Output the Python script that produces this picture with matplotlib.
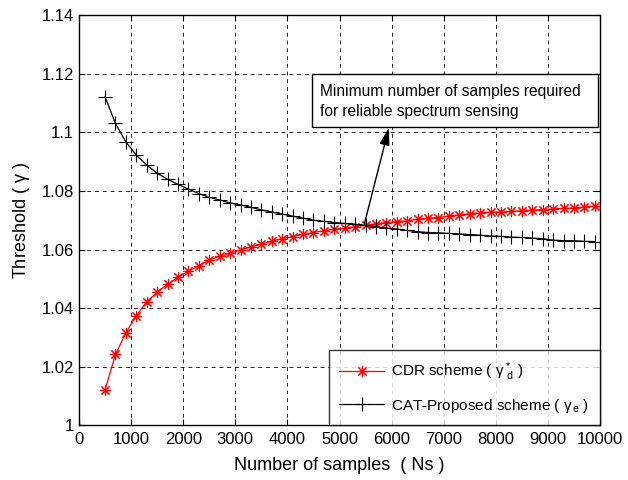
import numpy as np
import matplotlib
matplotlib.use("Agg")
import matplotlib.pyplot as plt
from matplotlib.patches import Rectangle

plt.rcParams['font.family'] = ['Liberation Sans', 'DejaVu Sans']
plt.rcParams['mathtext.fontset'] = 'custom'
plt.rcParams['mathtext.rm'] = 'Liberation Sans'
plt.rcParams['mathtext.it'] = 'Liberation Sans'

samples = list(range(500, 10000, 200))

cdr = [1.0121, 1.0242, 1.0316, 1.0374, 1.0422, 1.0454, 1.0482, 1.0505, 1.0526, 1.0545,
       1.0564, 1.0577, 1.0587, 1.0598, 1.0609, 1.0618, 1.0628, 1.0637, 1.0644, 1.0652,
       1.0658, 1.0664, 1.0669, 1.0673, 1.0678, 1.0682, 1.0688, 1.0692, 1.0695, 1.0698,
       1.0703, 1.0707, 1.0709, 1.0714, 1.0718, 1.0722, 1.0725, 1.0727, 1.0728, 1.0730,
       1.0732, 1.0735, 1.0736, 1.0739, 1.0740, 1.0742, 1.0744, 1.0749]

cat = [1.1121, 1.1030, 1.0967, 1.0922, 1.0888, 1.0860, 1.0840, 1.0822, 1.0806, 1.0791,
       1.0778, 1.0769, 1.0759, 1.0752, 1.0744, 1.0735, 1.0728, 1.0721, 1.0714, 1.0707,
       1.0700, 1.0696, 1.0692, 1.0689, 1.0686, 1.0682, 1.0677, 1.0673, 1.0670, 1.0665,
       1.0661, 1.0658, 1.0657, 1.0655, 1.0653, 1.0651, 1.0649, 1.0646, 1.0645, 1.0642,
       1.0641, 1.0639, 1.0637, 1.0632, 1.0630, 1.0630, 1.0628, 1.0627]

xticks = [0, 1000, 2000, 3000, 4000, 5000, 6000, 7000, 8000, 9000, 10000]
yticks = [1.0, 1.02, 1.04, 1.06, 1.08, 1.10, 1.12, 1.14]
ytick_labels = ['1', '1.02', '1.04', '1.06', '1.08', '1.1', '1.12', '1.14']

annot_text = 'Minimum number of samples required\nfor reliable spectrum sensing'
arrow_tail = (5470, 1.0682)
arrow_head = (5950, 1.1017)

fig = plt.figure(figsize=(6.28, 4.80), dpi=100)
ax = fig.add_axes([79/628, 1 - 425.4/480, 521/628, (425.4 - 15)/480])

ax.plot(samples, cdr, color='red', marker=(8, 2, 0), markersize=8, linewidth=0.9,
        markeredgewidth=0.8, label=r'CDR scheme ( $\gamma\,^{*}_{\,d}$ )')
ax.plot(samples, cat, color='black', marker='+', markersize=10, linewidth=0.9,
        markeredgewidth=0.8, label=r'CAT-Proposed scheme ( $\gamma_{\,e}$ )')

ax.set_xlim(0, 10000)
ax.set_ylim(1.0, 1.14)
ax.set_xticks(xticks)
ax.set_xticklabels([str(t) for t in xticks])
ax.set_yticks(yticks)
ax.set_yticklabels(ytick_labels)
ax.tick_params(direction='in', labelsize=12, length=4, top=True, right=True, width=0.8)
ax.tick_params(axis='x', pad=5)
ax.grid(True, color='black', linestyle=(0, (4, 4)), linewidth=0.7, alpha=0.85)
for s in ax.spines.values():
    s.set_linewidth(1.0)

ax.set_xlabel('Number of samples  ( Ns )', fontsize=13, labelpad=7)
ax.set_ylabel(r'Threshold ( $\gamma$ )', fontsize=13, labelpad=7)

leg = ax.legend(loc='lower right', bbox_to_anchor=(1.0, 0.0), borderaxespad=0,
                fontsize=11, frameon=True, fancybox=False, handlelength=2.9,
                handletextpad=0.5, labelspacing=0.9, borderpad=0.7)
leg.get_frame().set_edgecolor('black')
leg.get_frame().set_linewidth(1.0)

ax.annotate('', xy=arrow_head, xytext=arrow_tail,
            arrowprops=dict(arrowstyle='-|>,head_length=0.9,head_width=0.25', color='black',
                            lw=1.0, mutation_scale=12, shrinkA=0, shrinkB=0))
ax.add_patch(Rectangle((4472, 1.1017), 9962 - 4472, 1.1198 - 1.1017,
                       facecolor='white', edgecolor='black', linewidth=1.0, zorder=4))
ax.text(4626, 1.1105, annot_text, fontsize=11.2, ha='left', va='center',
        linespacing=1.35, zorder=5)

fig.savefig('out.png', dpi=100)
